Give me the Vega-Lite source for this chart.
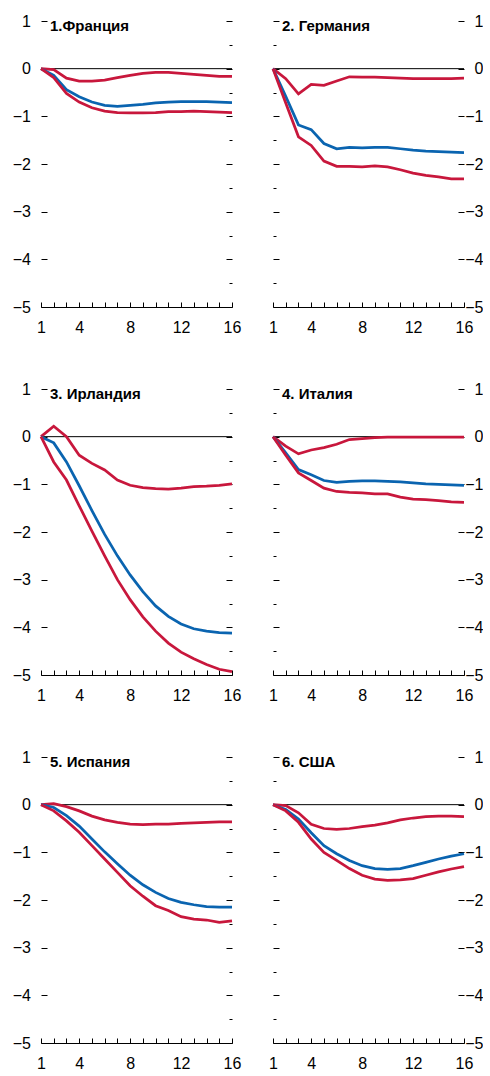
{
  "$schema": "https://vega.github.io/schema/vega-lite/v6.json",
  "padding": {"left": 12, "top": 13, "right": 0, "bottom": 0},
  "datasets": {
    "d": [
      {"c":"FR","s":"hi","x":1,"v":0},{"c":"FR","s":"hi","x":2,"v":-0.02},{"c":"FR","s":"hi","x":3,"v":-0.2},{"c":"FR","s":"hi","x":4,"v":-0.26},{"c":"FR","s":"hi","x":5,"v":-0.26},{"c":"FR","s":"hi","x":6,"v":-0.24},{"c":"FR","s":"hi","x":7,"v":-0.19},{"c":"FR","s":"hi","x":8,"v":-0.14},{"c":"FR","s":"hi","x":9,"v":-0.1},{"c":"FR","s":"hi","x":10,"v":-0.08},{"c":"FR","s":"hi","x":11,"v":-0.08},{"c":"FR","s":"hi","x":12,"v":-0.1},{"c":"FR","s":"hi","x":13,"v":-0.12},{"c":"FR","s":"hi","x":14,"v":-0.14},{"c":"FR","s":"hi","x":15,"v":-0.16},{"c":"FR","s":"hi","x":16,"v":-0.16},
      {"c":"FR","s":"mid","x":1,"v":0},{"c":"FR","s":"mid","x":2,"v":-0.14},{"c":"FR","s":"mid","x":3,"v":-0.44},{"c":"FR","s":"mid","x":4,"v":-0.59},{"c":"FR","s":"mid","x":5,"v":-0.7},{"c":"FR","s":"mid","x":6,"v":-0.77},{"c":"FR","s":"mid","x":7,"v":-0.79},{"c":"FR","s":"mid","x":8,"v":-0.77},{"c":"FR","s":"mid","x":9,"v":-0.75},{"c":"FR","s":"mid","x":10,"v":-0.72},{"c":"FR","s":"mid","x":11,"v":-0.7},{"c":"FR","s":"mid","x":12,"v":-0.69},{"c":"FR","s":"mid","x":13,"v":-0.69},{"c":"FR","s":"mid","x":14,"v":-0.69},{"c":"FR","s":"mid","x":15,"v":-0.7},{"c":"FR","s":"mid","x":16,"v":-0.71},
      {"c":"FR","s":"lo","x":1,"v":0},{"c":"FR","s":"lo","x":2,"v":-0.19},{"c":"FR","s":"lo","x":3,"v":-0.52},{"c":"FR","s":"lo","x":4,"v":-0.7},{"c":"FR","s":"lo","x":5,"v":-0.82},{"c":"FR","s":"lo","x":6,"v":-0.89},{"c":"FR","s":"lo","x":7,"v":-0.92},{"c":"FR","s":"lo","x":8,"v":-0.93},{"c":"FR","s":"lo","x":9,"v":-0.93},{"c":"FR","s":"lo","x":10,"v":-0.92},{"c":"FR","s":"lo","x":11,"v":-0.9},{"c":"FR","s":"lo","x":12,"v":-0.9},{"c":"FR","s":"lo","x":13,"v":-0.89},{"c":"FR","s":"lo","x":14,"v":-0.9},{"c":"FR","s":"lo","x":15,"v":-0.91},{"c":"FR","s":"lo","x":16,"v":-0.92},

      {"c":"DE","s":"hi","x":1,"v":0},{"c":"DE","s":"hi","x":2,"v":-0.21},{"c":"DE","s":"hi","x":3,"v":-0.53},{"c":"DE","s":"hi","x":4,"v":-0.33},{"c":"DE","s":"hi","x":5,"v":-0.35},{"c":"DE","s":"hi","x":6,"v":-0.26},{"c":"DE","s":"hi","x":7,"v":-0.17},{"c":"DE","s":"hi","x":8,"v":-0.18},{"c":"DE","s":"hi","x":9,"v":-0.18},{"c":"DE","s":"hi","x":10,"v":-0.19},{"c":"DE","s":"hi","x":11,"v":-0.2},{"c":"DE","s":"hi","x":12,"v":-0.21},{"c":"DE","s":"hi","x":13,"v":-0.21},{"c":"DE","s":"hi","x":14,"v":-0.21},{"c":"DE","s":"hi","x":15,"v":-0.21},{"c":"DE","s":"hi","x":16,"v":-0.2},
      {"c":"DE","s":"mid","x":1,"v":0},{"c":"DE","s":"mid","x":2,"v":-0.58},{"c":"DE","s":"mid","x":3,"v":-1.18},{"c":"DE","s":"mid","x":4,"v":-1.28},{"c":"DE","s":"mid","x":5,"v":-1.57},{"c":"DE","s":"mid","x":6,"v":-1.68},{"c":"DE","s":"mid","x":7,"v":-1.65},{"c":"DE","s":"mid","x":8,"v":-1.66},{"c":"DE","s":"mid","x":9,"v":-1.65},{"c":"DE","s":"mid","x":10,"v":-1.65},{"c":"DE","s":"mid","x":11,"v":-1.68},{"c":"DE","s":"mid","x":12,"v":-1.71},{"c":"DE","s":"mid","x":13,"v":-1.73},{"c":"DE","s":"mid","x":14,"v":-1.74},{"c":"DE","s":"mid","x":15,"v":-1.75},{"c":"DE","s":"mid","x":16,"v":-1.76},
      {"c":"DE","s":"lo","x":1,"v":0},{"c":"DE","s":"lo","x":2,"v":-0.72},{"c":"DE","s":"lo","x":3,"v":-1.43},{"c":"DE","s":"lo","x":4,"v":-1.61},{"c":"DE","s":"lo","x":5,"v":-1.94},{"c":"DE","s":"lo","x":6,"v":-2.05},{"c":"DE","s":"lo","x":7,"v":-2.05},{"c":"DE","s":"lo","x":8,"v":-2.06},{"c":"DE","s":"lo","x":9,"v":-2.04},{"c":"DE","s":"lo","x":10,"v":-2.06},{"c":"DE","s":"lo","x":11,"v":-2.12},{"c":"DE","s":"lo","x":12,"v":-2.19},{"c":"DE","s":"lo","x":13,"v":-2.24},{"c":"DE","s":"lo","x":14,"v":-2.27},{"c":"DE","s":"lo","x":15,"v":-2.31},{"c":"DE","s":"lo","x":16,"v":-2.31},

      {"c":"IE","s":"hi","x":1,"v":0},{"c":"IE","s":"hi","x":2,"v":0.22},{"c":"IE","s":"hi","x":3,"v":0},{"c":"IE","s":"hi","x":4,"v":-0.39},{"c":"IE","s":"hi","x":5,"v":-0.56},{"c":"IE","s":"hi","x":6,"v":-0.7},{"c":"IE","s":"hi","x":7,"v":-0.91},{"c":"IE","s":"hi","x":8,"v":-1.02},{"c":"IE","s":"hi","x":9,"v":-1.07},{"c":"IE","s":"hi","x":10,"v":-1.09},{"c":"IE","s":"hi","x":11,"v":-1.1},{"c":"IE","s":"hi","x":12,"v":-1.08},{"c":"IE","s":"hi","x":13,"v":-1.05},{"c":"IE","s":"hi","x":14,"v":-1.04},{"c":"IE","s":"hi","x":15,"v":-1.02},{"c":"IE","s":"hi","x":16,"v":-0.99},
      {"c":"IE","s":"mid","x":1,"v":0},{"c":"IE","s":"mid","x":2,"v":-0.13},{"c":"IE","s":"mid","x":3,"v":-0.53},{"c":"IE","s":"mid","x":4,"v":-1.03},{"c":"IE","s":"mid","x":5,"v":-1.55},{"c":"IE","s":"mid","x":6,"v":-2.05},{"c":"IE","s":"mid","x":7,"v":-2.5},{"c":"IE","s":"mid","x":8,"v":-2.9},{"c":"IE","s":"mid","x":9,"v":-3.25},{"c":"IE","s":"mid","x":10,"v":-3.55},{"c":"IE","s":"mid","x":11,"v":-3.77},{"c":"IE","s":"mid","x":12,"v":-3.93},{"c":"IE","s":"mid","x":13,"v":-4.03},{"c":"IE","s":"mid","x":14,"v":-4.08},{"c":"IE","s":"mid","x":15,"v":-4.11},{"c":"IE","s":"mid","x":16,"v":-4.12},
      {"c":"IE","s":"lo","x":1,"v":0},{"c":"IE","s":"lo","x":2,"v":-0.53},{"c":"IE","s":"lo","x":3,"v":-0.91},{"c":"IE","s":"lo","x":4,"v":-1.45},{"c":"IE","s":"lo","x":5,"v":-1.98},{"c":"IE","s":"lo","x":6,"v":-2.5},{"c":"IE","s":"lo","x":7,"v":-3.0},{"c":"IE","s":"lo","x":8,"v":-3.42},{"c":"IE","s":"lo","x":9,"v":-3.78},{"c":"IE","s":"lo","x":10,"v":-4.08},{"c":"IE","s":"lo","x":11,"v":-4.33},{"c":"IE","s":"lo","x":12,"v":-4.52},{"c":"IE","s":"lo","x":13,"v":-4.66},{"c":"IE","s":"lo","x":14,"v":-4.78},{"c":"IE","s":"lo","x":15,"v":-4.88},{"c":"IE","s":"lo","x":16,"v":-4.93},

      {"c":"IT","s":"hi","x":1,"v":0},{"c":"IT","s":"hi","x":2,"v":-0.2},{"c":"IT","s":"hi","x":3,"v":-0.36},{"c":"IT","s":"hi","x":4,"v":-0.28},{"c":"IT","s":"hi","x":5,"v":-0.23},{"c":"IT","s":"hi","x":6,"v":-0.16},{"c":"IT","s":"hi","x":7,"v":-0.06},{"c":"IT","s":"hi","x":8,"v":-0.04},{"c":"IT","s":"hi","x":9,"v":-0.02},{"c":"IT","s":"hi","x":10,"v":-0.01},{"c":"IT","s":"hi","x":11,"v":-0.01},{"c":"IT","s":"hi","x":12,"v":-0.01},{"c":"IT","s":"hi","x":13,"v":-0.01},{"c":"IT","s":"hi","x":14,"v":-0.01},{"c":"IT","s":"hi","x":15,"v":-0.01},{"c":"IT","s":"hi","x":16,"v":-0.01},
      {"c":"IT","s":"mid","x":1,"v":0},{"c":"IT","s":"mid","x":2,"v":-0.34},{"c":"IT","s":"mid","x":3,"v":-0.69},{"c":"IT","s":"mid","x":4,"v":-0.8},{"c":"IT","s":"mid","x":5,"v":-0.92},{"c":"IT","s":"mid","x":6,"v":-0.96},{"c":"IT","s":"mid","x":7,"v":-0.94},{"c":"IT","s":"mid","x":8,"v":-0.93},{"c":"IT","s":"mid","x":9,"v":-0.93},{"c":"IT","s":"mid","x":10,"v":-0.94},{"c":"IT","s":"mid","x":11,"v":-0.95},{"c":"IT","s":"mid","x":12,"v":-0.97},{"c":"IT","s":"mid","x":13,"v":-0.99},{"c":"IT","s":"mid","x":14,"v":-1.0},{"c":"IT","s":"mid","x":15,"v":-1.01},{"c":"IT","s":"mid","x":16,"v":-1.02},
      {"c":"IT","s":"lo","x":1,"v":0},{"c":"IT","s":"lo","x":2,"v":-0.39},{"c":"IT","s":"lo","x":3,"v":-0.76},{"c":"IT","s":"lo","x":4,"v":-0.92},{"c":"IT","s":"lo","x":5,"v":-1.08},{"c":"IT","s":"lo","x":6,"v":-1.15},{"c":"IT","s":"lo","x":7,"v":-1.17},{"c":"IT","s":"lo","x":8,"v":-1.18},{"c":"IT","s":"lo","x":9,"v":-1.2},{"c":"IT","s":"lo","x":10,"v":-1.2},{"c":"IT","s":"lo","x":11,"v":-1.27},{"c":"IT","s":"lo","x":12,"v":-1.31},{"c":"IT","s":"lo","x":13,"v":-1.32},{"c":"IT","s":"lo","x":14,"v":-1.34},{"c":"IT","s":"lo","x":15,"v":-1.37},{"c":"IT","s":"lo","x":16,"v":-1.38},

      {"c":"ES","s":"hi","x":1,"v":0},{"c":"ES","s":"hi","x":2,"v":0.02},{"c":"ES","s":"hi","x":3,"v":-0.04},{"c":"ES","s":"hi","x":4,"v":-0.13},{"c":"ES","s":"hi","x":5,"v":-0.24},{"c":"ES","s":"hi","x":6,"v":-0.32},{"c":"ES","s":"hi","x":7,"v":-0.37},{"c":"ES","s":"hi","x":8,"v":-0.41},{"c":"ES","s":"hi","x":9,"v":-0.42},{"c":"ES","s":"hi","x":10,"v":-0.41},{"c":"ES","s":"hi","x":11,"v":-0.41},{"c":"ES","s":"hi","x":12,"v":-0.39},{"c":"ES","s":"hi","x":13,"v":-0.38},{"c":"ES","s":"hi","x":14,"v":-0.37},{"c":"ES","s":"hi","x":15,"v":-0.36},{"c":"ES","s":"hi","x":16,"v":-0.36},
      {"c":"ES","s":"mid","x":1,"v":0},{"c":"ES","s":"mid","x":2,"v":-0.06},{"c":"ES","s":"mid","x":3,"v":-0.23},{"c":"ES","s":"mid","x":4,"v":-0.45},{"c":"ES","s":"mid","x":5,"v":-0.72},{"c":"ES","s":"mid","x":6,"v":-0.99},{"c":"ES","s":"mid","x":7,"v":-1.24},{"c":"ES","s":"mid","x":8,"v":-1.48},{"c":"ES","s":"mid","x":9,"v":-1.68},{"c":"ES","s":"mid","x":10,"v":-1.84},{"c":"ES","s":"mid","x":11,"v":-1.97},{"c":"ES","s":"mid","x":12,"v":-2.05},{"c":"ES","s":"mid","x":13,"v":-2.1},{"c":"ES","s":"mid","x":14,"v":-2.14},{"c":"ES","s":"mid","x":15,"v":-2.15},{"c":"ES","s":"mid","x":16,"v":-2.15},
      {"c":"ES","s":"lo","x":1,"v":0},{"c":"ES","s":"lo","x":2,"v":-0.13},{"c":"ES","s":"lo","x":3,"v":-0.34},{"c":"ES","s":"lo","x":4,"v":-0.58},{"c":"ES","s":"lo","x":5,"v":-0.86},{"c":"ES","s":"lo","x":6,"v":-1.14},{"c":"ES","s":"lo","x":7,"v":-1.42},{"c":"ES","s":"lo","x":8,"v":-1.7},{"c":"ES","s":"lo","x":9,"v":-1.92},{"c":"ES","s":"lo","x":10,"v":-2.12},{"c":"ES","s":"lo","x":11,"v":-2.22},{"c":"ES","s":"lo","x":12,"v":-2.35},{"c":"ES","s":"lo","x":13,"v":-2.4},{"c":"ES","s":"lo","x":14,"v":-2.42},{"c":"ES","s":"lo","x":15,"v":-2.47},{"c":"ES","s":"lo","x":16,"v":-2.44},

      {"c":"US","s":"hi","x":1,"v":0},{"c":"US","s":"hi","x":2,"v":-0.02},{"c":"US","s":"hi","x":3,"v":-0.17},{"c":"US","s":"hi","x":4,"v":-0.41},{"c":"US","s":"hi","x":5,"v":-0.5},{"c":"US","s":"hi","x":6,"v":-0.52},{"c":"US","s":"hi","x":7,"v":-0.5},{"c":"US","s":"hi","x":8,"v":-0.46},{"c":"US","s":"hi","x":9,"v":-0.43},{"c":"US","s":"hi","x":10,"v":-0.38},{"c":"US","s":"hi","x":11,"v":-0.32},{"c":"US","s":"hi","x":12,"v":-0.28},{"c":"US","s":"hi","x":13,"v":-0.25},{"c":"US","s":"hi","x":14,"v":-0.24},{"c":"US","s":"hi","x":15,"v":-0.24},{"c":"US","s":"hi","x":16,"v":-0.25},
      {"c":"US","s":"mid","x":1,"v":0},{"c":"US","s":"mid","x":2,"v":-0.1},{"c":"US","s":"mid","x":3,"v":-0.3},{"c":"US","s":"mid","x":4,"v":-0.59},{"c":"US","s":"mid","x":5,"v":-0.86},{"c":"US","s":"mid","x":6,"v":-1.03},{"c":"US","s":"mid","x":7,"v":-1.17},{"c":"US","s":"mid","x":8,"v":-1.28},{"c":"US","s":"mid","x":9,"v":-1.34},{"c":"US","s":"mid","x":10,"v":-1.36},{"c":"US","s":"mid","x":11,"v":-1.34},{"c":"US","s":"mid","x":12,"v":-1.28},{"c":"US","s":"mid","x":13,"v":-1.21},{"c":"US","s":"mid","x":14,"v":-1.14},{"c":"US","s":"mid","x":15,"v":-1.08},{"c":"US","s":"mid","x":16,"v":-1.03},
      {"c":"US","s":"lo","x":1,"v":0},{"c":"US","s":"lo","x":2,"v":-0.13},{"c":"US","s":"lo","x":3,"v":-0.37},{"c":"US","s":"lo","x":4,"v":-0.72},{"c":"US","s":"lo","x":5,"v":-1.0},{"c":"US","s":"lo","x":6,"v":-1.17},{"c":"US","s":"lo","x":7,"v":-1.34},{"c":"US","s":"lo","x":8,"v":-1.48},{"c":"US","s":"lo","x":9,"v":-1.56},{"c":"US","s":"lo","x":10,"v":-1.59},{"c":"US","s":"lo","x":11,"v":-1.58},{"c":"US","s":"lo","x":12,"v":-1.55},{"c":"US","s":"lo","x":13,"v":-1.48},{"c":"US","s":"lo","x":14,"v":-1.41},{"c":"US","s":"lo","x":15,"v":-1.35},{"c":"US","s":"lo","x":16,"v":-1.3}
    ]
  },
  "columns": 2,
  "spacing": {"row": 46, "column": 26},
  "concat": [
    {
      "width": 191, "height": 286,
      "title": {"text": "1.Франция", "anchor": "start", "frame": "group", "offset": -21, "dx": 9, "fontSize": 15, "fontWeight": "bold", "color": "#000", "font": "Liberation Sans"},
      "layer": [
        {"data": {"values": [{}]}, "mark": {"type": "rule", "color": "#000", "strokeWidth": 1},
         "encoding": {"y": {"datum": 0, "scale": {"domain": [-5, 1], "nice": false, "zero": false},
           "axis": {"orient": "right", "values": [-5,-4.5,-4,-3.5,-3,-2.5,-2,-1.5,-1,-0.5,0,0.5,1], "tickSize": {"condition": {"test": "datum.value % 1 !== 0", "value": -3}, "value": -6}, "labels": false, "domain": false, "grid": false, "title": null}}}},
        {"data": {"name": "d"}, "transform": [{"filter": "datum.c === 'FR'"}],
         "mark": {"type": "line", "strokeWidth": 2.75},
         "encoding": {
           "x": {"field": "x", "type": "quantitative", "scale": {"domain": [1, 16], "nice": false, "zero": false},
             "axis": {"orient": "bottom", "values": [1,2,3,4,5,6,7,8,9,10,11,12,13,14,15,16], "tickSize": -5, "labelPadding": 17, "labelFlush": false, "labelOverlap": false, "labelExpr": "indexof([1,4,8,12,16], datum.value) >= 0 ? datum.label : ''", "grid": false, "title": null}},
           "y": {"field": "v", "type": "quantitative", "scale": {"domain": [-5, 1], "nice": false, "zero": false},
             "axis": {"orient": "left", "format": "d", "values": [-5,-4.5,-4,-3.5,-3,-2.5,-2,-1.5,-1,-0.5,0,0.5,1], "tickSize": {"condition": {"test": "datum.value % 1 !== 0", "value": -3}, "value": -6}, "labelPadding": 16.5, "labelOverlap": false, "labelExpr": "datum.value % 1 === 0 ? datum.label : ''", "domain": false, "grid": false, "title": null}},
           "color": {"field": "s", "type": "nominal", "scale": {"domain": ["hi", "lo", "mid"], "range": ["#c8173c", "#c8173c", "#0a64b0"]}, "legend": null}
         }}
      ],
      "resolve": {"axis": {"y": "independent"}}
    },
    {
      "width": 191, "height": 286,
      "title": {"text": "2. Германия", "anchor": "start", "frame": "group", "offset": -21, "dx": 9, "fontSize": 15, "fontWeight": "bold", "color": "#000", "font": "Liberation Sans"},
      "layer": [
        {"data": {"values": [{}]}, "mark": {"type": "rule", "color": "#000", "strokeWidth": 1},
         "encoding": {"y": {"datum": 0, "scale": {"domain": [-5, 1], "nice": false, "zero": false},
           "axis": {"orient": "left", "values": [-5,-4.5,-4,-3.5,-3,-2.5,-2,-1.5,-1,-0.5,0,0.5,1], "tickSize": {"condition": {"test": "datum.value % 1 !== 0", "value": -3}, "value": -6}, "labels": false, "domain": false, "grid": false, "title": null}}}},
        {"data": {"name": "d"}, "transform": [{"filter": "datum.c === 'DE'"}],
         "mark": {"type": "line", "strokeWidth": 2.75},
         "encoding": {
           "x": {"field": "x", "type": "quantitative", "scale": {"domain": [1, 16], "nice": false, "zero": false},
             "axis": {"orient": "bottom", "values": [1,2,3,4,5,6,7,8,9,10,11,12,13,14,15,16], "tickSize": -5, "labelPadding": 17, "labelFlush": false, "labelOverlap": false, "labelExpr": "indexof([1,4,8,12,16], datum.value) >= 0 ? datum.label : ''", "grid": false, "title": null}},
           "y": {"field": "v", "type": "quantitative", "scale": {"domain": [-5, 1], "nice": false, "zero": false},
             "axis": {"orient": "right", "format": "d", "values": [-5,-4.5,-4,-3.5,-3,-2.5,-2,-1.5,-1,-0.5,0,0.5,1], "tickSize": {"condition": {"test": "datum.value % 1 !== 0", "value": -3}, "value": -6}, "labelPadding": 25, "labelAlign": "right", "labelOverlap": false, "labelExpr": "datum.value % 1 === 0 ? datum.label : ''", "domain": false, "grid": false, "title": null}},
           "color": {"field": "s", "type": "nominal", "scale": {"domain": ["hi", "lo", "mid"], "range": ["#c8173c", "#c8173c", "#0a64b0"]}, "legend": null}
         }}
      ],
      "resolve": {"axis": {"y": "independent"}}
    },
    {
      "width": 191, "height": 286,
      "title": {"text": "3. Ирландия", "anchor": "start", "frame": "group", "offset": -21, "dx": 9, "fontSize": 15, "fontWeight": "bold", "color": "#000", "font": "Liberation Sans"},
      "layer": [
        {"data": {"values": [{}]}, "mark": {"type": "rule", "color": "#000", "strokeWidth": 1},
         "encoding": {"y": {"datum": 0, "scale": {"domain": [-5, 1], "nice": false, "zero": false},
           "axis": {"orient": "right", "values": [-5,-4.5,-4,-3.5,-3,-2.5,-2,-1.5,-1,-0.5,0,0.5,1], "tickSize": {"condition": {"test": "datum.value % 1 !== 0", "value": -3}, "value": -6}, "labels": false, "domain": false, "grid": false, "title": null}}}},
        {"data": {"name": "d"}, "transform": [{"filter": "datum.c === 'IE'"}],
         "mark": {"type": "line", "strokeWidth": 2.75},
         "encoding": {
           "x": {"field": "x", "type": "quantitative", "scale": {"domain": [1, 16], "nice": false, "zero": false},
             "axis": {"orient": "bottom", "values": [1,2,3,4,5,6,7,8,9,10,11,12,13,14,15,16], "tickSize": -5, "labelPadding": 17, "labelFlush": false, "labelOverlap": false, "labelExpr": "indexof([1,4,8,12,16], datum.value) >= 0 ? datum.label : ''", "grid": false, "title": null}},
           "y": {"field": "v", "type": "quantitative", "scale": {"domain": [-5, 1], "nice": false, "zero": false},
             "axis": {"orient": "left", "format": "d", "values": [-5,-4.5,-4,-3.5,-3,-2.5,-2,-1.5,-1,-0.5,0,0.5,1], "tickSize": {"condition": {"test": "datum.value % 1 !== 0", "value": -3}, "value": -6}, "labelPadding": 16.5, "labelOverlap": false, "labelExpr": "datum.value % 1 === 0 ? datum.label : ''", "domain": false, "grid": false, "title": null}},
           "color": {"field": "s", "type": "nominal", "scale": {"domain": ["hi", "lo", "mid"], "range": ["#c8173c", "#c8173c", "#0a64b0"]}, "legend": null}
         }}
      ],
      "resolve": {"axis": {"y": "independent"}}
    },
    {
      "width": 191, "height": 286,
      "title": {"text": "4. Италия", "anchor": "start", "frame": "group", "offset": -21, "dx": 9, "fontSize": 15, "fontWeight": "bold", "color": "#000", "font": "Liberation Sans"},
      "layer": [
        {"data": {"values": [{}]}, "mark": {"type": "rule", "color": "#000", "strokeWidth": 1},
         "encoding": {"y": {"datum": 0, "scale": {"domain": [-5, 1], "nice": false, "zero": false},
           "axis": {"orient": "left", "values": [-5,-4.5,-4,-3.5,-3,-2.5,-2,-1.5,-1,-0.5,0,0.5,1], "tickSize": {"condition": {"test": "datum.value % 1 !== 0", "value": -3}, "value": -6}, "labels": false, "domain": false, "grid": false, "title": null}}}},
        {"data": {"name": "d"}, "transform": [{"filter": "datum.c === 'IT'"}],
         "mark": {"type": "line", "strokeWidth": 2.75},
         "encoding": {
           "x": {"field": "x", "type": "quantitative", "scale": {"domain": [1, 16], "nice": false, "zero": false},
             "axis": {"orient": "bottom", "values": [1,2,3,4,5,6,7,8,9,10,11,12,13,14,15,16], "tickSize": -5, "labelPadding": 17, "labelFlush": false, "labelOverlap": false, "labelExpr": "indexof([1,4,8,12,16], datum.value) >= 0 ? datum.label : ''", "grid": false, "title": null}},
           "y": {"field": "v", "type": "quantitative", "scale": {"domain": [-5, 1], "nice": false, "zero": false},
             "axis": {"orient": "right", "format": "d", "values": [-5,-4.5,-4,-3.5,-3,-2.5,-2,-1.5,-1,-0.5,0,0.5,1], "tickSize": {"condition": {"test": "datum.value % 1 !== 0", "value": -3}, "value": -6}, "labelPadding": 25, "labelAlign": "right", "labelOverlap": false, "labelExpr": "datum.value % 1 === 0 ? datum.label : ''", "domain": false, "grid": false, "title": null}},
           "color": {"field": "s", "type": "nominal", "scale": {"domain": ["hi", "lo", "mid"], "range": ["#c8173c", "#c8173c", "#0a64b0"]}, "legend": null}
         }}
      ],
      "resolve": {"axis": {"y": "independent"}}
    },
    {
      "width": 191, "height": 286,
      "title": {"text": "5. Испания", "anchor": "start", "frame": "group", "offset": -21, "dx": 9, "fontSize": 15, "fontWeight": "bold", "color": "#000", "font": "Liberation Sans"},
      "layer": [
        {"data": {"values": [{}]}, "mark": {"type": "rule", "color": "#000", "strokeWidth": 1},
         "encoding": {"y": {"datum": 0, "scale": {"domain": [-5, 1], "nice": false, "zero": false},
           "axis": {"orient": "right", "values": [-5,-4.5,-4,-3.5,-3,-2.5,-2,-1.5,-1,-0.5,0,0.5,1], "tickSize": {"condition": {"test": "datum.value % 1 !== 0", "value": -3}, "value": -6}, "labels": false, "domain": false, "grid": false, "title": null}}}},
        {"data": {"name": "d"}, "transform": [{"filter": "datum.c === 'ES'"}],
         "mark": {"type": "line", "strokeWidth": 2.75},
         "encoding": {
           "x": {"field": "x", "type": "quantitative", "scale": {"domain": [1, 16], "nice": false, "zero": false},
             "axis": {"orient": "bottom", "values": [1,2,3,4,5,6,7,8,9,10,11,12,13,14,15,16], "tickSize": -5, "labelPadding": 17, "labelFlush": false, "labelOverlap": false, "labelExpr": "indexof([1,4,8,12,16], datum.value) >= 0 ? datum.label : ''", "grid": false, "title": null}},
           "y": {"field": "v", "type": "quantitative", "scale": {"domain": [-5, 1], "nice": false, "zero": false},
             "axis": {"orient": "left", "format": "d", "values": [-5,-4.5,-4,-3.5,-3,-2.5,-2,-1.5,-1,-0.5,0,0.5,1], "tickSize": {"condition": {"test": "datum.value % 1 !== 0", "value": -3}, "value": -6}, "labelPadding": 16.5, "labelOverlap": false, "labelExpr": "datum.value % 1 === 0 ? datum.label : ''", "domain": false, "grid": false, "title": null}},
           "color": {"field": "s", "type": "nominal", "scale": {"domain": ["hi", "lo", "mid"], "range": ["#c8173c", "#c8173c", "#0a64b0"]}, "legend": null}
         }}
      ],
      "resolve": {"axis": {"y": "independent"}}
    },
    {
      "width": 191, "height": 286,
      "title": {"text": "6. США", "anchor": "start", "frame": "group", "offset": -21, "dx": 9, "fontSize": 15, "fontWeight": "bold", "color": "#000", "font": "Liberation Sans"},
      "layer": [
        {"data": {"values": [{}]}, "mark": {"type": "rule", "color": "#000", "strokeWidth": 1},
         "encoding": {"y": {"datum": 0, "scale": {"domain": [-5, 1], "nice": false, "zero": false},
           "axis": {"orient": "left", "values": [-5,-4.5,-4,-3.5,-3,-2.5,-2,-1.5,-1,-0.5,0,0.5,1], "tickSize": {"condition": {"test": "datum.value % 1 !== 0", "value": -3}, "value": -6}, "labels": false, "domain": false, "grid": false, "title": null}}}},
        {"data": {"name": "d"}, "transform": [{"filter": "datum.c === 'US'"}],
         "mark": {"type": "line", "strokeWidth": 2.75},
         "encoding": {
           "x": {"field": "x", "type": "quantitative", "scale": {"domain": [1, 16], "nice": false, "zero": false},
             "axis": {"orient": "bottom", "values": [1,2,3,4,5,6,7,8,9,10,11,12,13,14,15,16], "tickSize": -5, "labelPadding": 17, "labelFlush": false, "labelOverlap": false, "labelExpr": "indexof([1,4,8,12,16], datum.value) >= 0 ? datum.label : ''", "grid": false, "title": null}},
           "y": {"field": "v", "type": "quantitative", "scale": {"domain": [-5, 1], "nice": false, "zero": false},
             "axis": {"orient": "right", "format": "d", "values": [-5,-4.5,-4,-3.5,-3,-2.5,-2,-1.5,-1,-0.5,0,0.5,1], "tickSize": {"condition": {"test": "datum.value % 1 !== 0", "value": -3}, "value": -6}, "labelPadding": 25, "labelAlign": "right", "labelOverlap": false, "labelExpr": "datum.value % 1 === 0 ? datum.label : ''", "domain": false, "grid": false, "title": null}},
           "color": {"field": "s", "type": "nominal", "scale": {"domain": ["hi", "lo", "mid"], "range": ["#c8173c", "#c8173c", "#0a64b0"]}, "legend": null}
         }}
      ],
      "resolve": {"axis": {"y": "independent"}}
    }
  ],
  "config": {
    "view": {"stroke": null},
    "font": "Liberation Sans",
    "axis": {"labelFont": "Liberation Sans", "labelFontSize": 16, "labelColor": "#000", "tickColor": "#000", "domainColor": "#000", "tickWidth": 1, "domainWidth": 1}
  }
}
